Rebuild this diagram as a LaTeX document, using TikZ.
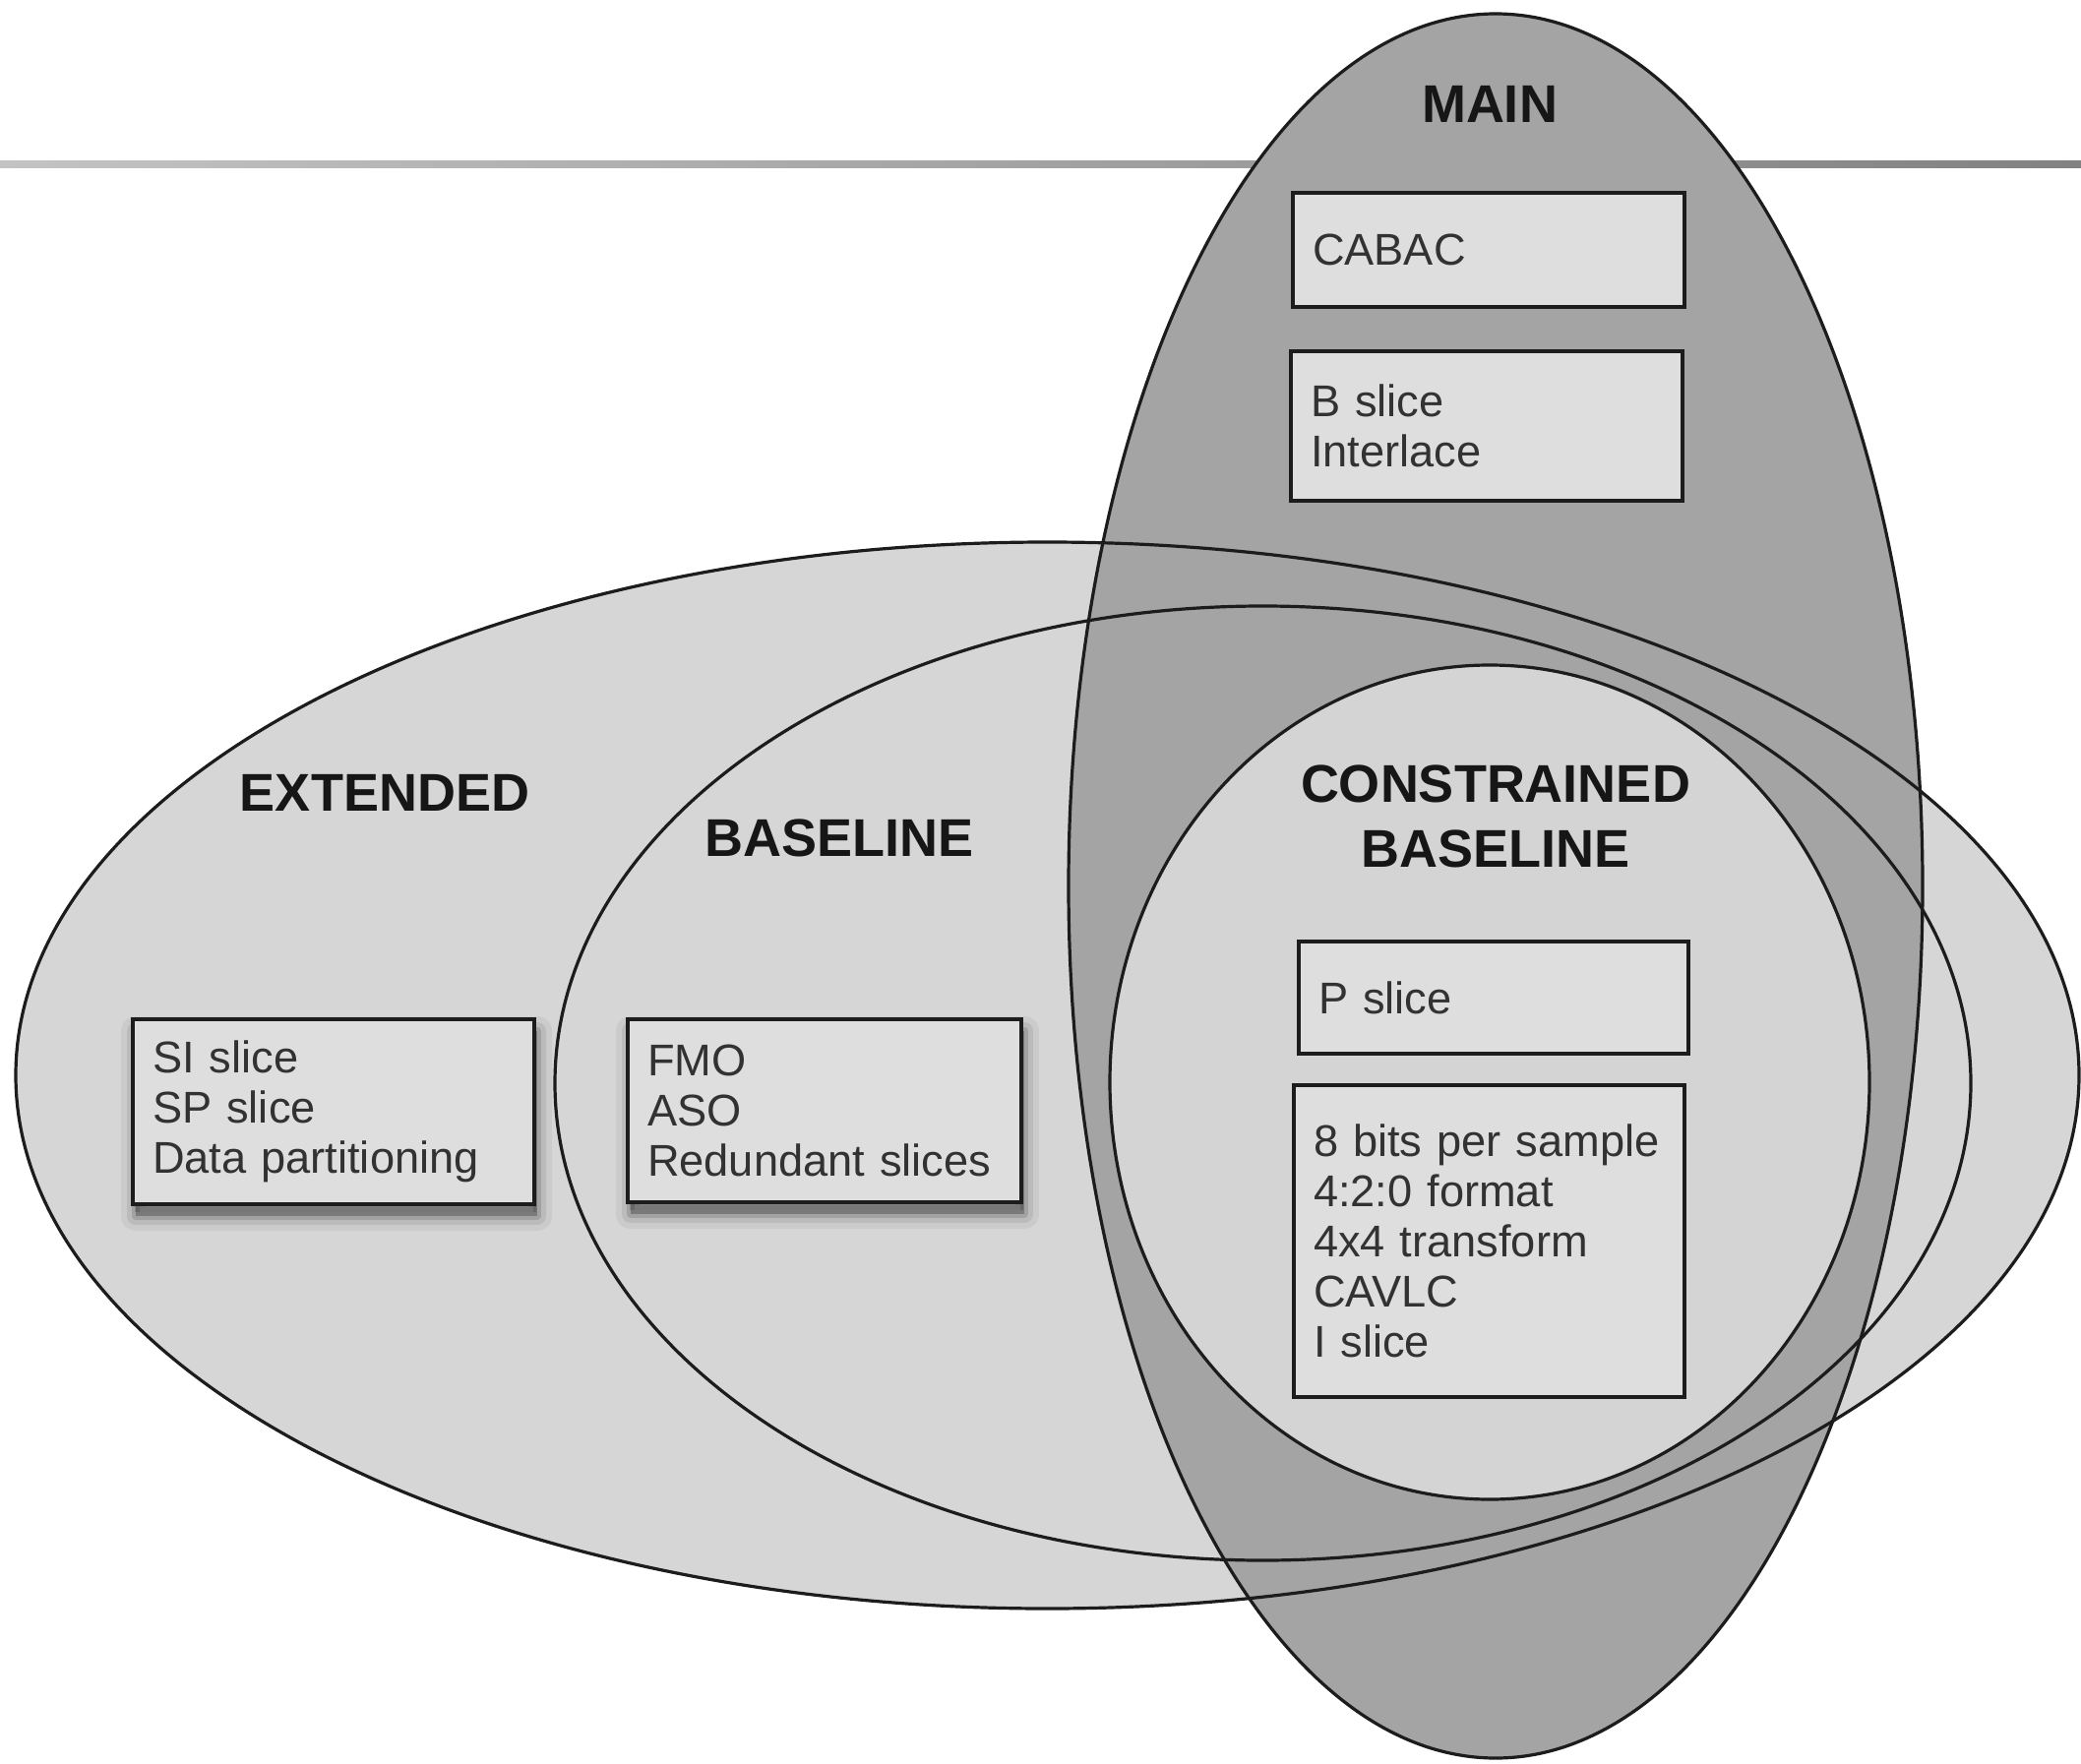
\documentclass[tikz,border=0pt]{standalone}
\usepackage{fontspec}
\setmainfont{Liberation Sans}
\definecolor{lightfill}{RGB}{214,214,214}
\definecolor{mainfill}{RGB}{164,164,164}
\definecolor{cbfill}{RGB}{212,212,212}
\definecolor{boxfill}{RGB}{222,222,222}
\definecolor{boxtext}{RGB}{50,50,50}
\definecolor{labeltext}{RGB}{22,22,22}
\definecolor{edge}{RGB}{28,28,28}
\definecolor{ruleL}{RGB}{195,195,195}
\definecolor{ruleR}{RGB}{130,130,130}
\begin{document}
\begin{tikzpicture}[x=0.5pt, y=-0.5pt,
  setline/.style={draw=edge, line width=1.6pt},
  featbox/.style={draw=edge, line width=2.1pt, fill=boxfill, text=boxtext, align=left,
    inner xsep=10pt, inner ysep=0pt, anchor=center,
    execute at begin node={\hyphenpenalty=10000\exhyphenpenalty=10000},
    font=\fontsize{22.6pt}{25.5pt}\selectfont},
  softshadow/.style={
    preaction={draw=black, fill=black, line width=15pt, line join=round, opacity=0.05,
      transform canvas={xshift=1.5pt,yshift=-6pt}},
    preaction={draw=black, fill=black, line width=9pt, line join=round, opacity=0.08,
      transform canvas={xshift=1.5pt,yshift=-6pt}},
    preaction={draw=black, fill=black, line width=4pt, line join=round, opacity=0.13,
      transform canvas={xshift=1.5pt,yshift=-6pt}},
    preaction={fill=black, opacity=0.15,
      transform canvas={xshift=1pt,yshift=-4pt}}},
  setlabel/.style={text=labeltext, align=center, anchor=center,
    font=\fontsize{27pt}{33pt}\selectfont\bfseries}
]
\useasboundingbox (0,0) rectangle (2115,1793);
\fill[white] (0,0) rectangle (2115,1793);

% top rule
\shade[left color=ruleL, right color=ruleR] (0,164) rectangle (2115,170);

% fills
\fill[lightfill] (1064.5,1093) ellipse [x radius=1048.5, y radius=542];
\fill[lightfill] (1283.5,1101) ellipse [x radius=719.5, y radius=485];
\fill[mainfill] (1520,900.5) ellipse [x radius=434, y radius=886.5];
\fill[cbfill] (1514,1100) ellipse [x radius=386, y radius=424];

% outlines
\draw[setline] (1064.5,1093) ellipse [x radius=1048.5, y radius=542];
\draw[setline] (1283.5,1101) ellipse [x radius=719.5, y radius=485];
\draw[setline] (1520,900.5) ellipse [x radius=434, y radius=886.5];
\draw[setline] (1514,1100) ellipse [x radius=386, y radius=424];

% labels
\node[setlabel] (lmain) at (1514,106) {MAIN};
\node[setlabel] (lext) at (391,806) {EXTENDED};
\node[setlabel] (lbase) at (853,852) {BASELINE};
\node[setlabel] (lcons) at (1520,830) {CONSTRAINED\\BASELINE};

% feature boxes
\node[featbox, text width=179pt, minimum height=58pt] (cabac) at (1513,254) {CABAC};
\node[featbox, text width=179pt, minimum height=76pt] (bslice) at (1511,433) {B slice\\Interlace};
\node[featbox, softshadow, text width=184pt, minimum height=94pt] (si) at (339,1130)
  {SI slice\\SP slice\\\mbox{Data partitioning}};
\node[featbox, softshadow, text width=180pt, minimum height=93pt] (fmo) at (838,1129)
  {FMO\\ASO\\\mbox{Redundant slices}};
\node[featbox, text width=178pt, minimum height=57pt] (pslice) at (1518,1014) {P slice};
\node[featbox, text width=178.5pt, minimum height=158.5pt] (bits) at (1513.5,1261.5)
  {\mbox{8 bits per sample}\\4:2:0 format\\4x4 transform\\CAVLC\\I slice};
\end{tikzpicture}
\end{document}
